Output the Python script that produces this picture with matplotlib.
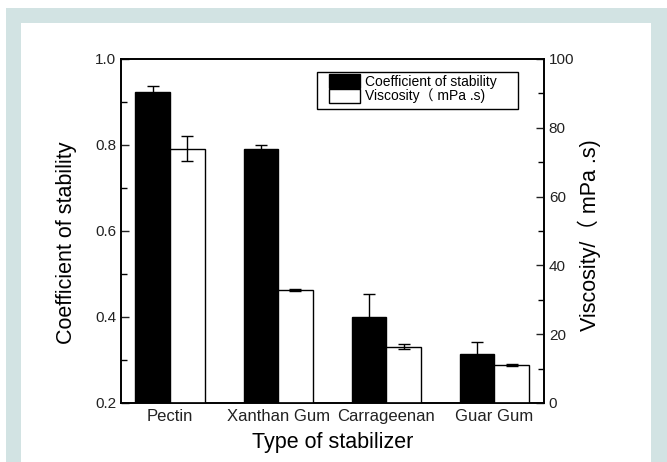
import matplotlib

matplotlib.use("Agg")
import matplotlib.pyplot as plt
import numpy as np
from matplotlib.patches import Rectangle
from matplotlib.ticker import FormatStrFormatter, MultipleLocator

plt.rcParams["font.family"] = ["Liberation Sans", "Noto Sans CJK SC", "DejaVu Sans"]

stabilizers = ["Pectin", "Xanthan Gum", "Carrageenan", "Guar Gum"]
stability = [0.924, 0.791, 0.401, 0.313]
stability_err = [0.014, 0.008, 0.052, 0.030]
viscosity = [73.9, 32.9, 16.4, 11.0]
viscosity_err = [3.6, 0.3, 0.7, 0.3]

W, H = 667, 462
fig = plt.figure(figsize=(W / 100, H / 100), dpi=100)

# page frame: teal border around a white panel
fig.add_artist(Rectangle((6 / W, 0), 1 - 6 / W, 1 - 8 / H, transform=fig.transFigure,
                         facecolor="#d2e3e3", edgecolor="none", zorder=-10))
fig.add_artist(Rectangle((21 / W, 0), (651 - 21) / W, 1 - 23 / H, transform=fig.transFigure,
                         facecolor="white", edgecolor="none", zorder=-9))

AX_L, AX_R, AX_T, AX_B = 121, 544, 59, 403
aw, ah = AX_R - AX_L, AX_B - AX_T
ax = fig.add_axes([AX_L / W, 1 - AX_B / H, aw / W, ah / H])
ax.patch.set_alpha(0)
ax2 = ax.twinx()

x = np.arange(len(stabilizers))
bw = 0.32
ek = dict(ecolor="black", elinewidth=1, capsize=4, capthick=1)
b1 = ax.bar(x - bw / 2, stability, bw, color="black", edgecolor="black", lw=1,
            label="Coefficient of stability")
ax.errorbar(x - bw / 2, stability, yerr=stability_err, fmt="none", **ek)
b2 = ax2.bar(x + bw / 2, viscosity, bw, color="white", edgecolor="black", lw=1,
             label="Viscosity（ mPa .s)")
ax2.errorbar(x + bw / 2, viscosity, yerr=viscosity_err, fmt="none", **ek)

ax.set_xlim(-0.454, 3.46)
ax.set_ylim(0.2, 1.0)
ax2.set_ylim(0, 100)
ax.set_xticks(x)
ax.set_xticklabels(stabilizers, fontsize=12)
ax.tick_params(axis="x", length=0, pad=4, colors="#222222")
ax.yaxis.set_major_locator(MultipleLocator(0.2))
ax.yaxis.set_minor_locator(MultipleLocator(0.1))
ax.yaxis.set_major_formatter(FormatStrFormatter("%.1f"))
ax2.yaxis.set_major_locator(MultipleLocator(20))
ax2.yaxis.set_minor_locator(MultipleLocator(10))
for a in (ax, ax2):
    a.tick_params(axis="y", which="major", direction="in", length=6, width=1,
                  labelsize=11, colors="#222222")
    a.tick_params(axis="y", which="minor", direction="in", length=4, width=1)
    for s in a.spines.values():
        s.set_linewidth(1.2)

ax.set_ylabel("Coefficient of stability", fontsize=15.5)
ax.yaxis.set_label_coords((77 - AX_L) / aw, 1 - (243 - AX_T) / ah)
ax2.set_ylabel("Viscosity/（ mPa .s)", fontsize=15.5)
ax2.yaxis.set_label_coords((578 - AX_L) / aw, 1 - (235 - AX_T) / ah)
ax.set_xlabel("Type of stabilizer", fontsize=15.5, labelpad=6)

# legend without its own frame, boxed by a separate rectangle
leg = ax.legend([b1, b2], [b1.get_label(), b2.get_label()], loc="upper left",
                bbox_to_anchor=((329 - AX_L) / aw, 1 - (74 - AX_T) / ah),
                fontsize=10, frameon=False, borderpad=0, labelspacing=0.0,
                handlelength=2.2, handleheight=1.15, handletextpad=0.4,
                borderaxespad=0)
ax.add_patch(Rectangle(((317 - AX_L) / aw, 1 - (109 - AX_T) / ah), 201 / aw, 37 / ah,
                       transform=ax.transAxes, facecolor="none", edgecolor="black",
                       lw=1, zorder=5))

fig.savefig("out.png", dpi=100)
